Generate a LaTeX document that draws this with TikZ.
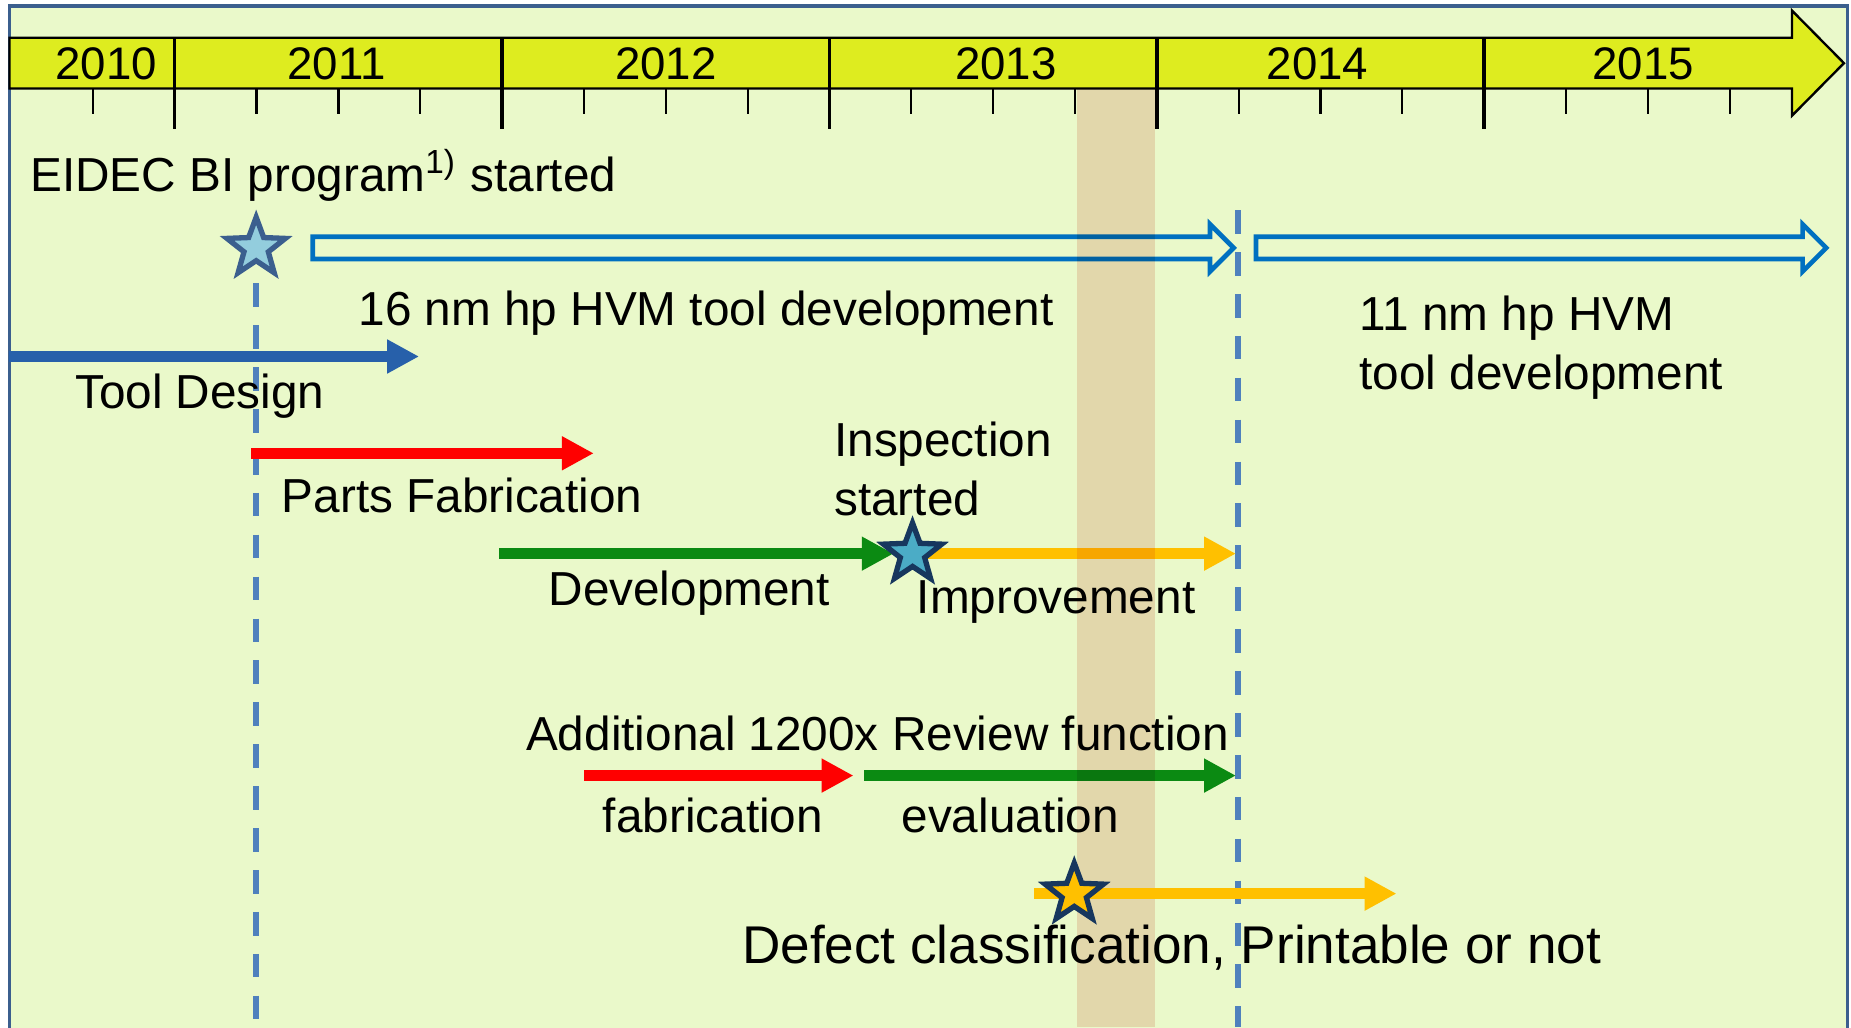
\documentclass[tikz,border=0pt]{standalone}
\usepackage{fontspec}
\setmainfont{Liberation Sans}
\usepackage{tikz}
\usetikzlibrary{arrows.meta, shapes.geometric}
\usepackage{xcolor}
\definecolor{tlback}{HTML}{EAF9CA}
\definecolor{tlframe}{HTML}{3B5F8E}
\definecolor{tlband}{HTML}{DEEC1F}
\definecolor{tlshade}{HTML}{F7DDD8}
\definecolor{hvmblue}{HTML}{0070C0}
\definecolor{designblue}{HTML}{2760AA}
\definecolor{guideblue}{HTML}{4F81BD}
\definecolor{fabred}{HTML}{FF0000}
\definecolor{devgreen}{HTML}{0B8A12}
\definecolor{impyellow}{HTML}{FFC000}
\definecolor{starnavy}{HTML}{17375E}
\definecolor{starpale}{HTML}{93CDDD}
\definecolor{starmid}{HTML}{4BACC6}

\begin{document}
\begin{tikzpicture}[
  lbl/.style={font=\fontsize{11.5}{14.1}\selectfont, inner sep=0pt, anchor=base west},
  yearlbl/.style={font=\fontsize{11}{13}\selectfont, inner sep=0pt, anchor=base},
  bar/.style={line width=0.09cm, -{Triangle[length=0.27cm, width=0.27cm]}},
  hvmbar/.style={draw=hvmblue, line width=0.04cm, line join=miter},
  guide/.style={draw=guideblue, line width=0.05cm, dash pattern=on 0.2cm off 0.155cm},
  mstar/.style={star, star points=5, star point ratio=2.4, minimum size=0.52cm,
    inner sep=0pt, line width=0.045cm}
]
  \useasboundingbox (0,0) rectangle (15.68,-8.70);

  % frame
  \draw[fill=tlback, draw=tlframe, line width=0.03cm] (0.08,-0.05) rectangle (15.65,-8.72);

  % year band with arrow head
  \draw[fill=tlband, draw=black, line width=0.02cm, line join=miter]
    (0.08,-0.32) -- (15.18,-0.32) -- (15.18,-0.09) -- (15.62,-0.535)
    -- (15.18,-0.98) -- (15.18,-0.75) -- (0.08,-0.75) -- cycle;
  \foreach \x in {1.48,4.253,7.026,9.799,12.572}
    \draw[line width=0.03cm] (\x,-0.32) -- (\x,-1.09);
  \foreach \x in {0.787,2.173,2.867,3.56,4.946,5.64,6.333,7.719,8.413,9.106,
                  10.493,11.186,11.879,13.265,13.959,14.652}
    \draw[line width=0.018cm] (\x,-0.75) -- (\x,-0.97);
  \node[yearlbl] (y2010) at (0.90,-0.67) {2010};
  \node[yearlbl] (y2011) at (2.85,-0.67) {2011};
  \node[yearlbl] (y2012) at (5.64,-0.67) {2012};
  \node[yearlbl] (y2013) at (8.52,-0.67) {2013};
  \node[yearlbl] (y2014) at (11.16,-0.67) {2014};
  \node[yearlbl] (y2015) at (13.92,-0.67) {2015};

  % milestone guides
  \coordinate (guideAtop) at (2.17,-2.40);
  \coordinate (guideAbot) at (2.17,-8.70);
  \coordinate (guideBtop) at (10.49,-1.78);
  \coordinate (guideBbot) at (10.49,-8.70);
  \draw[guide] (guideAtop) -- (guideAbot);
  \draw[guide] (guideBtop) -- (guideBbot);

  % program start
  \node[lbl] (title) at (0.25,-1.62) {EIDEC BI program\textsuperscript{1)} started};
  \node[mstar, draw=tlframe, fill=starpale] (s1) at (2.17,-2.10) {};

  % HVM tool development phases
  \draw[hvmbar] (2.65,-2.005) -- (10.25,-2.005) -- (10.25,-1.90) -- (10.45,-2.10)
    -- (10.25,-2.30) -- (10.25,-2.195) -- (2.65,-2.195) -- cycle;
  \draw[hvmbar] (10.64,-2.005) -- (15.27,-2.005) -- (15.27,-1.90) -- (15.47,-2.10)
    -- (15.27,-2.30) -- (15.27,-2.195) -- (10.64,-2.195) -- cycle;
  \node[lbl] (hvm16) at (3.03,-2.76) {16 nm hp HVM tool development};
  \node[lbl, anchor=north west, align=left] (hvm11) at (11.51,-2.50)
    {11 nm hp HVM\\tool development};

  % tool design and parts
  \coordinate (tdS) at (0.08,-3.02);
  \coordinate (tdE) at (3.55,-3.02);
  \draw[bar, designblue] (tdS) -- (tdE);
  \node[lbl] (tdlbl) at (0.63,-3.46) {Tool Design};
  \coordinate (pfS) at (2.13,-3.84);
  \coordinate (pfE) at (5.03,-3.84);
  \draw[bar, fabred] (pfS) -- (pfE);
  \node[lbl] (pflbl) at (2.38,-4.34) {Parts Fabrication};

  % development / inspection / improvement
  \node[lbl, anchor=north west, align=left] (insp) at (7.06,-3.57) {Inspection\\started};
  \coordinate (devS) at (4.23,-4.69);
  \coordinate (devE) at (7.57,-4.69);
  \coordinate (impE) at (10.47,-4.69);
  \draw[bar, devgreen] (devS) -- (devE);
  \draw[bar, impyellow] (7.73,-4.69) -- (impE);
  \node[mstar, draw=starnavy, fill=starmid] (s2) at (7.73,-4.69) {};
  \node[lbl] (devlbl) at (4.64,-5.13) {Development};
  \node[lbl] (implbl) at (7.76,-5.20) {Improvement};

  % 1200x review function
  \node[lbl] (addlbl) at (4.45,-6.36) {Additional 1200x Review function};
  \coordinate (addS) at (4.95,-6.57);
  \coordinate (addE) at (7.23,-6.57);
  \coordinate (evalS) at (7.32,-6.57);
  \coordinate (evalE) at (10.47,-6.57);
  \draw[bar, fabred] (addS) -- (addE);
  \draw[bar, devgreen] (evalS) -- (evalE);
  \node[lbl] (fablbl) at (5.10,-7.05) {fabrication};
  \node[lbl] (evallbl) at (7.63,-7.05) {evaluation};

  % current quarter
  \begin{scope}[blend mode=multiply]
    \fill[tlshade] (9.12,-0.75) rectangle (9.78,-8.70);
  \end{scope}

  % defect classification
  \coordinate (defS) at (8.76,-7.57);
  \coordinate (defE) at (11.83,-7.57);
  \draw[bar, impyellow] (defS) -- (defE);
  \node[mstar, draw=starnavy, fill=impyellow] (s3) at (9.10,-7.57) {};
  \node[lbl, font=\fontsize{12.8}{15}\selectfont] (deflbl) at (6.28,-8.16)
    {Defect classification, Printable or not};
\end{tikzpicture}
\end{document}
